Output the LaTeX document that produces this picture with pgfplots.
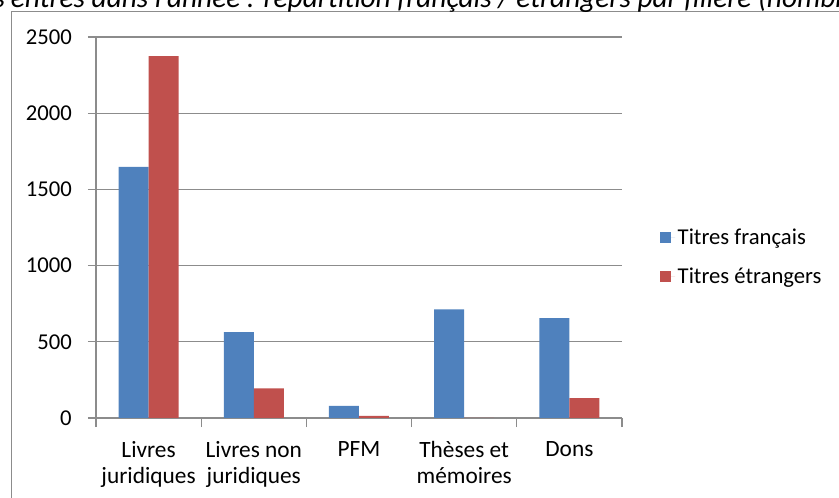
\documentclass[border=0pt]{standalone}
\usepackage{fontspec}
\setmainfont{Carlito}
\usepackage{pgfplots}
\pgfplotsset{compat=1.18}
\definecolor{xlblue}{HTML}{4F81BD}
\definecolor{xlred}{HTML}{C0504D}
\definecolor{xlgrid}{HTML}{8C8C8C}
\begin{document}
\begin{tikzpicture}[font=\fontsize{17}{19.5}\selectfont]
\clip (0,0) rectangle (629.25pt,-373.5pt);
\path[use as bounding box] (0,0) rectangle (629.25pt,-373.5pt);
% outer chart frame (cut by the picture edge)
\draw[xlgrid, line width=0.8pt] (8.6pt,-8.3pt) rectangle (700pt,-450pt);
% title, cut at the top
\node[anchor=base east, font=\fontsize{22}{26}\selectfont\itshape, inner sep=0]
  at (4pt,-5.4pt) {Nombre de titres};
\node[anchor=base west, font=\fontsize{22}{26}\selectfont\itshape, inner sep=0]
  at (8pt,-5.4pt) {entrés dans l'année : répartition français / étrangers par filière (nombre de titres)};
\begin{axis}[
    at={(72pt,-313.5pt)}, anchor=south west,
    scale only axis,
    width=394.5pt, height=285.75pt,
    ybar=0pt, bar width=22.5pt,
    xmin=-0.5, xmax=4.5,
    ymin=0, ymax=2500,
    ytick={0,500,1000,1500,2000,2500},
    xtick={0,1,2,3,4},
    xticklabels={Livres\\juridiques, Livres non\\juridiques, PFM, Thèses et\\mémoires, Dons},
    minor xtick={-0.5,0.5,1.5,2.5,3.5,4.5},
    every major x tick/.append style={draw opacity=0},
    xticklabel style={align=center, text depth=0pt, inner sep=0pt, yshift=-11.5pt,
      font=\fontsize{17.5}{19.5}\selectfont},
    yticklabel style={anchor=east, inner sep=0pt, xshift=-12pt},
    /pgf/number format/assume math mode=true,
    /pgf/number format/1000 sep={},
    tick align=outside,
    major tick length=6pt, minor tick length=6.75pt,
    tick style={xlgrid, line width=0.8pt},
    axis x line*=bottom, axis y line*=left,
    axis line style={xlgrid, line width=0.8pt},
    ymajorgrids, grid style={xlgrid, line width=0.8pt},
    legend style={draw=none, fill=none, at={(1.072,0.4226)}, anchor=west,
      inner sep=0pt, row sep=12pt, font=\fontsize{17}{19.5}\selectfont,
      legend cell align=left},
    legend image code/.code={\path (0pt,0pt) -- (11.2pt,0pt);
      \fill[#1] (0pt,-4.1pt) rectangle (8.2pt,4.1pt);},
]
\addplot[fill=xlblue, draw=none] coordinates {(0,1647) (1,564) (2,79) (3,713) (4,656)};
\addlegendentry{Titres français}
\addplot[fill=xlred, draw=none] coordinates {(0,2375) (1,195) (2,14) (3,0) (4,131)};
\addlegendentry{Titres étrangers}
\end{axis}
\end{tikzpicture}
\end{document}
